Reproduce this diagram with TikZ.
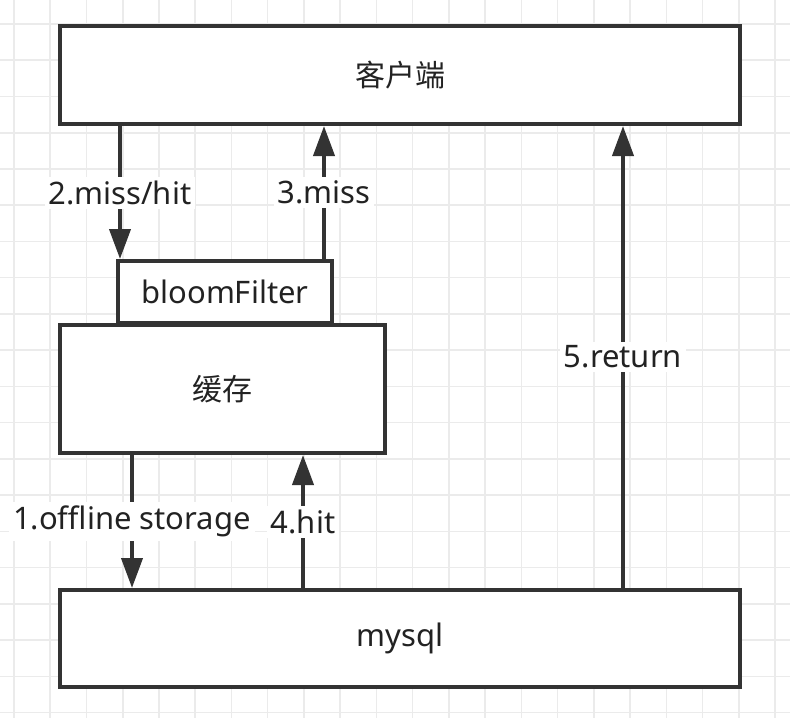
\documentclass[tikz,border=0pt]{standalone}
\usepackage{fontspec}
\setmainfont{Noto Sans}
\newfontfamily\cjk{Noto Sans CJK SC}
\usetikzlibrary{arrows.meta}
\definecolor{ink}{HTML}{333333}
\definecolor{txt}{HTML}{222222}
\definecolor{gridc}{HTML}{EBEBEB}
\begin{document}
\begin{tikzpicture}[x=1pt,y=-1pt,
  box/.style={draw=ink, line width=4pt, fill=white, inner sep=0pt, text=txt, font=\fontsize{31}{37}\selectfont},
  lbl/.style={fill=white, text=txt, font=\fontsize{31}{37}\selectfont, inner sep=4pt},
  conn/.style={draw=ink, line width=4pt, -{Triangle[length=30pt,width=21pt]}}]
\useasboundingbox (0,0) rectangle (790,718);
\fill[white] (0,0) rectangle (790,718);
% grid
\foreach \k in {0,...,21} \draw[gridc, line width=1.6pt] ({14+36.24*\k},0) -- ({14+36.24*\k},718);
\foreach \k in {0,...,19} \draw[gridc, line width=1.6pt] (0,{24+36.24*\k}) -- (790,{24+36.24*\k});
% boxes
\node[box, minimum width=680pt, minimum height=98pt] (client) at (400,75) {\cjk\fontsize{30}{36}\selectfont 客户端};
\node[box, minimum width=325pt, minimum height=128pt] (cache) at (222.5,389) {\cjk\fontsize{30}{36}\selectfont 缓存};
\node[box, minimum width=214pt, minimum height=62pt] (bloom) at (225,292) {bloomFilter};
\node[box, minimum width=680pt, minimum height=97pt] (mysql) at (400,638.5) {mysql};
% x positions
\coordinate (x2) at (120,0);
\coordinate (x3) at (324,0);
\coordinate (x1) at (132,0);
\coordinate (x4) at (303,0);
\coordinate (x5) at (623,0);
% connectors
\draw[conn] (client.south -| x2) -- node[lbl]{2.miss/hit} (bloom.north -| x2);
\draw[conn] (bloom.north -| x3) -- node[lbl]{3.miss} (client.south -| x3);
\draw[conn] (cache.south -| x1) -- node[lbl]{1.offline storage} (mysql.north -| x1);
\draw[conn] (mysql.north -| x4) -- node[lbl]{4.hit} (cache.south -| x4);
\draw[conn] (mysql.north -| x5) -- node[lbl]{5.return} (client.south -| x5);
\end{tikzpicture}
\end{document}
